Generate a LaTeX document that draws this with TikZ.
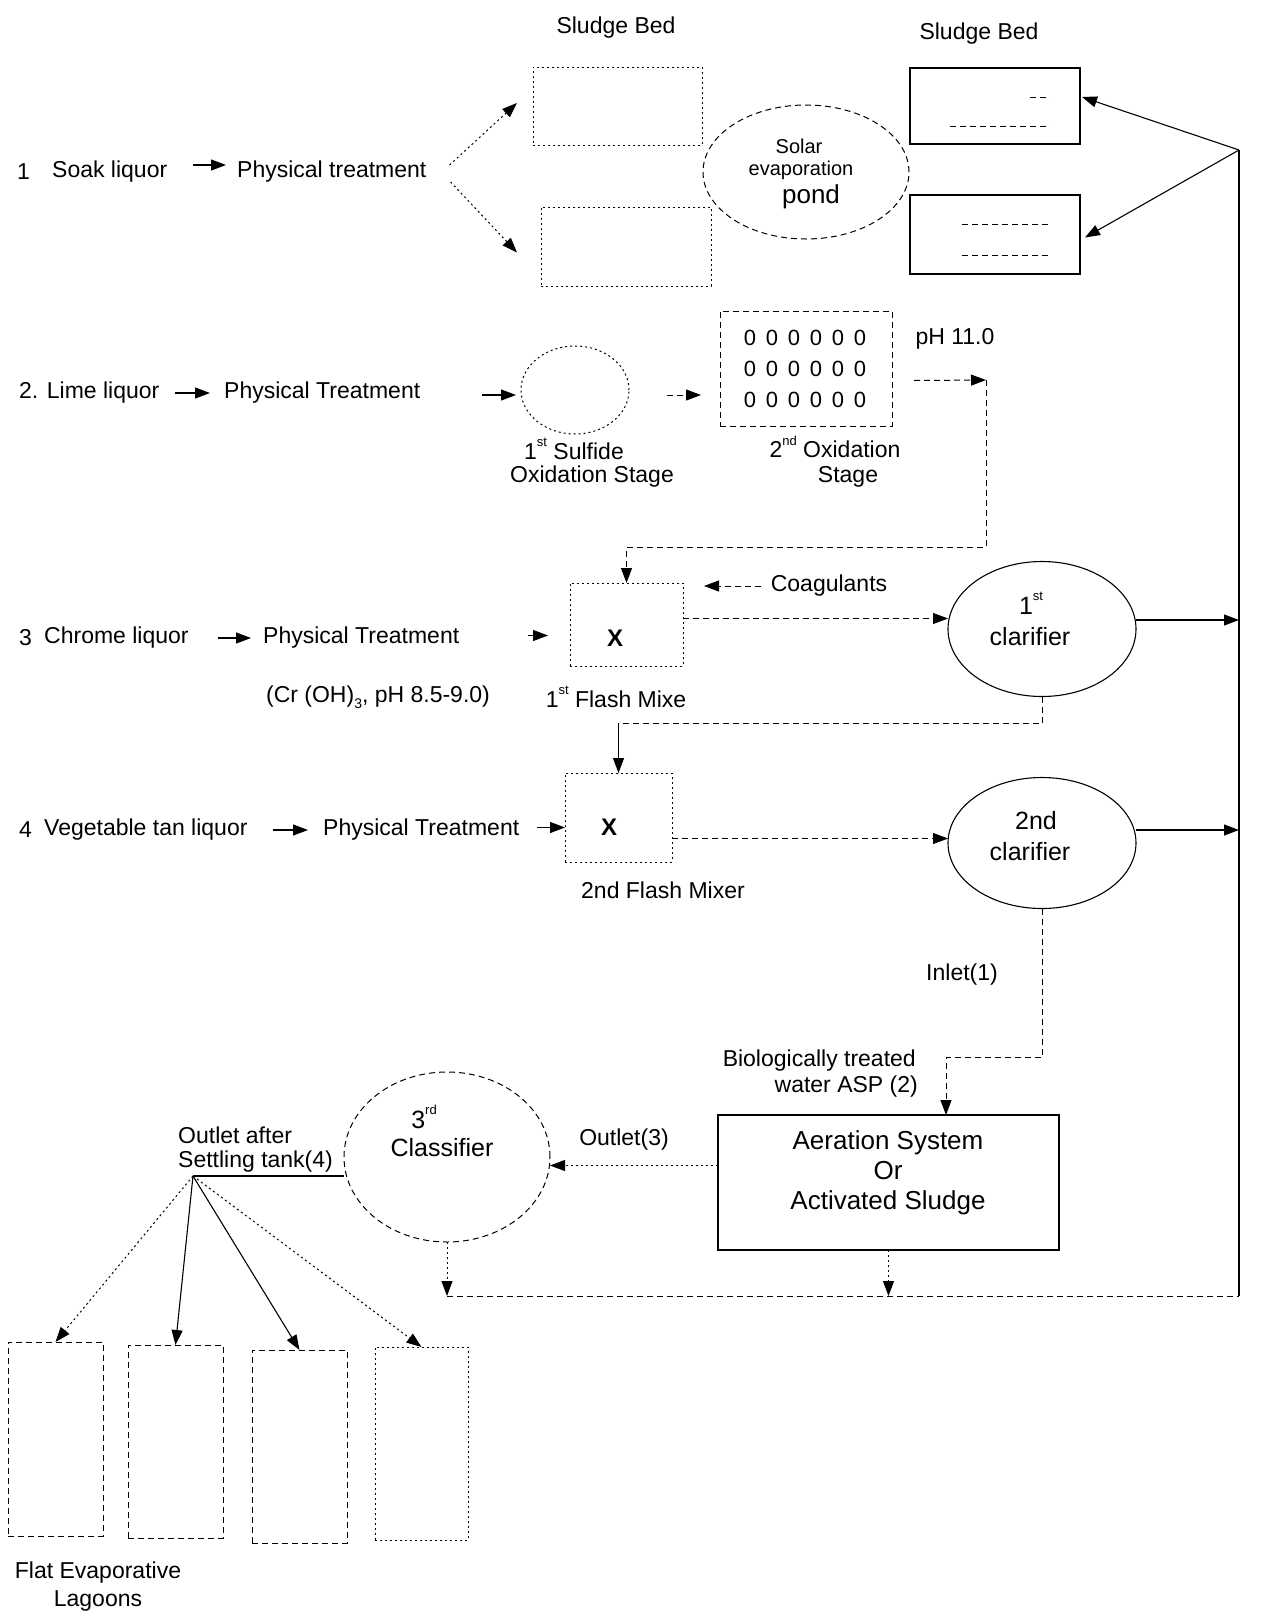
\documentclass[tikz,border=0pt]{standalone}
\usepackage{fontspec}
\setmainfont{Liberation Sans}
\usetikzlibrary{arrows.meta,calc,shapes.geometric}
\newcommand\mysup[1]{\raisebox{0.55em}{\fontsize{13}{14}\selectfont #1}}
\newcommand\mysub[1]{\raisebox{-0.25em}{\fontsize{14}{15}\selectfont #1}}
\begin{document}
\begin{tikzpicture}[x=1pt,y=-1pt,
  txt/.style={inner sep=0pt,font=\fontsize{23}{27}\selectfont},
  big/.style={inner sep=0pt,font=\fontsize{25}{29}\selectfont},
  box/.style={draw,inner sep=0pt,outer sep=0pt},
  ln/.style={line width=1.1pt},
  dashln/.style={line width=1pt,dash pattern=on 6pt off 4pt},
  dotln/.style={line width=1pt,dash pattern=on 2pt off 3pt},
  arr/.style={-{Triangle[length=15pt,width=11pt]}},
  ell/.style={draw,ellipse,inner sep=0pt,outer sep=0pt},
]
\fill[white] (0,0) rectangle (1261,1620);
\useasboundingbox (0,0) rectangle (1261,1620);

% ---------- top: sludge beds and solar pond ----------
\node[txt] (sbllab) at (616,28) {Sludge Bed};
\node[txt] (sbrlab) at (979,34) {Sludge Bed};
\node[box,dotln,minimum width=169pt,minimum height=78pt] (sbl1) at (617.5,106) {};
\node[box,dotln,minimum width=170pt,minimum height=79pt] (sbl2) at (626,246.5) {};
\node[box,ln,minimum width=170pt,minimum height=76pt] (sbr1) at (995,106) {};
\node[box,ln,minimum width=170pt,minimum height=79pt] (sbr2) at (995,234.5) {};
\draw[dashln] ($(sbr1.north west)+(120,29)$) -- ++(20,0);
\draw[dashln] ($(sbr1.north west)+(40,58)$) -- ++(100,0);
\draw[dashln] ($(sbr2.north west)+(52,29)$) -- ++(88,0);
\draw[dashln] ($(sbr2.north west)+(52,60)$) -- ++(88,0);
\node[ell,dashln,minimum width=206pt,minimum height=134pt] (solar) at (806,172) {};
\node[inner sep=0pt,font=\fontsize{20}{24}\selectfont] (solarA) at (799,146) {Solar};
\node[inner sep=0pt,font=\fontsize{20}{24}\selectfont] (solarB) at (801,170) {evaporation};
\node[inner sep=0pt,font=\fontsize{26}{30}\selectfont] (solarC) at (811,197) {pond};

% ---------- row 1 ----------
\node[txt,anchor=west] (n1) at (17,172) {1};
\node[txt,anchor=west] (soak) at (52,172) {Soak liquor};
\node[txt,anchor=west] (pt1) at (237,172) {Physical treatment};
\draw[ln,arr,shorten <=26pt,shorten >=11pt] ($(soak.east)+(0,-7)$) -- ($(pt1.west)+(0,-7)$);
\draw[dotln,arr] ($(pt1.east)+(23,-7)$) -- ($(sbl1.west)+(-16,-3)$);
\draw[dotln,arr] ($(pt1.east)+(24,10)$) -- ($(sbl2.west)+(-24,6)$);

% right return line
\coordinate (vtop) at (1239,150);
\coordinate (vbot) at (1239,1296);
\draw[ln,arr] (vtop) -- ($(sbr1.east)+(2,-9)$);
\draw[ln,arr] (vtop) -- ($(sbr2.east)+(5,3)$);
\draw[ln] (vbot) -- (vtop);

% ---------- row 2 ----------
\node[txt,anchor=west] (lime) at (19,393) {2. Lime liquor};
\node[txt,anchor=west] (pt2) at (224,393) {Physical Treatment};
\draw[ln,arr,shorten <=15pt,shorten >=14pt] (lime.east) -- (pt2.west);
\node[ell,dotln,minimum width=108pt,minimum height=88pt] (sulf) at (575,390) {};
\draw[ln,arr] ($(sulf.west)+(-39,5)$) -- ($(sulf.west)+(-5,5)$);
\node[txt] (sulfA) at (574,449) {1\mysup{st} Sulfide};
\node[txt] (sulfB) at (592,477) {Oxidation Stage};
\node[box,dashln,minimum width=172pt,minimum height=115pt] (ox2) at (806,368.5) {};
\draw[dashln,arr] ($(sulf.east)+(38,5)$) -- ($(sulf.east -| ox2.west)+(-19,5)$);
\node[inner sep=0pt,font=\fontsize{22}{26}\selectfont] (z1) at (805,338) {{\spaceskip=9.8pt 0 0 0 0 0 0}};
\node[inner sep=0pt,font=\fontsize{22}{26}\selectfont] (z2) at (805,369) {{\spaceskip=9.8pt 0 0 0 0 0 0}};
\node[inner sep=0pt,font=\fontsize{22}{26}\selectfont] (z3) at (805,400) {{\spaceskip=9.8pt 0 0 0 0 0 0}};
\node[txt] (ox2A) at (835,447) {2\mysup{nd} Oxidation};
\node[txt] (ox2B) at (848,477) {Stage};
\node[txt] (ph) at (955,339) {pH 11.0};
\coordinate (c1) at (986,380);
\coordinate (c2) at (986,547);
\draw[dashln,arr] ($(ox2.east)+(22,12)$) -- (c1);

% ---------- row 3 ----------
\node[txt,anchor=west] (n3) at (19,638) {3};
\node[txt,anchor=west] (chrome) at (44,638) {Chrome liquor};
\node[txt,anchor=west] (pt3) at (263,638) {Physical Treatment};
\draw[ln,arr,shorten <=29pt,shorten >=12pt] (chrome.east) -- (pt3.west);
\node[box,dotln,minimum width=113pt,minimum height=83pt] (mix1) at (626.5,624.5) {};
\draw[dashln,arr] (c1) -- (c2) -- (c2 -| mix1.north) -- (mix1.north);
\draw[ln,arr] ($(mix1.west)+(-42,11)$) -- ($(mix1.west)+(-22,11)$);
\node[inner sep=0pt,font=\bfseries\fontsize{24}{27}\selectfont] (x1) at (615,638) {X};
\node[txt] (crlab) at (378,697) {(Cr (OH)\mysub{3}, pH 8.5-9.0)};
\node[txt] (mix1lab) at (616,697) {1\mysup{st} Flash Mixe};
\node[txt] (coag) at (829,586) {Coagulants};
\coordinate (coagtip) at (704,586);
\draw[dashln,arr,shorten <=10pt] (coag.west) -- (coagtip);
\node[ell,ln,minimum width=188pt,minimum height=135pt] (cl1) at (1042,629) {};
\node[big] (cl1A) at (1031,603) {1\mysup{st}};
\node[big] (cl1B) at (1030,637) {clarifier};
\draw[dashln,arr] ($(mix1.east)+(0,-6)$) -- ($(mix1.east -| cl1.west)+(0,-6)$);
\draw[ln,arr] ($(cl1.east)+(0,-9)$) -- ($(cl1.east -| vtop)+(0,-9)$);

% ---------- row 4 ----------
\node[txt,anchor=west] (n4) at (19,830) {4};
\node[txt,anchor=west] (veg) at (44,830) {Vegetable tan liquor};
\node[txt,anchor=west] (pt4) at (323,830) {Physical Treatment};
\draw[ln,arr,shorten <=25pt,shorten >=15pt] (veg.east) -- (pt4.west);
\node[box,dotln,minimum width=107pt,minimum height=89pt] (mix2) at (618.5,817.5) {};
\draw[ln,arr] ($(mix2.west)+(-28,10)$) -- ($(mix2.west)+(0,10)$);
\node[inner sep=0pt,font=\bfseries\fontsize{24}{27}\selectfont] (x2) at (609,827) {X};
\node[txt] (mix2lab) at (663,890) {2nd Flash Mixer};
\coordinate (r1) at (1042,723);
\draw[dashln] (cl1.south) -- (r1) -- (r1 -| mix2.north);
\draw[ln,arr] (r1 -| mix2.north) -- (mix2.north);
\node[ell,ln,minimum width=188pt,minimum height=131pt] (cl2) at (1042,843) {};
\node[big] (cl2A) at (1036,821) {2nd};
\node[big] (cl2B) at (1030,852) {clarifier};
\draw[dashln,arr] ($(mix2.east)+(0,21)$) -- ($(mix2.east -| cl2.west)+(0,21)$);
\draw[ln,arr] ($(cl2.east)+(0,-13)$) -- ($(cl2.east -| vtop)+(0,-13)$);

% ---------- biological stage ----------
\node[txt] (inlet) at (962,975) {Inlet(1)};
\node[txt,anchor=east] (bio1) at (916,1061) {Biologically treated};
\node[txt,anchor=east] (bio2) at (918,1087) {water ASP (2)};
\node[box,ln,minimum width=341pt,minimum height=135pt] (aer) at (888.5,1182.5) {};
\node[inner sep=0pt,font=\fontsize{26}{30}\selectfont,align=center] (aert) at (888,1173) {Aeration System\\Or\\Activated Sludge};
\coordinate (i1) at (1042,1057);
\coordinate (i2) at (946,1057);
\draw[dashln,arr] (cl2.south) -- (i1) -- (i2) -- (i2 |- aer.north);
\node[txt] (out3) at (624,1140) {Outlet(3)};
\node[ell,dashln,minimum width=206pt,minimum height=170pt] (cls) at (447,1157) {};
\node[big] (clsA) at (424,1117) {3\mysup{rd}};
\node[big] (clsB) at (442,1148) {Classifier};
\draw[dotln,arr] ($(aer.west)+(0,-17)$) -- ($(aer.west -| cls.east)+(0,-17)$);
\draw[dotln,arr] (cls.south) -- (cls.south |- vbot);
\draw[dotln,arr] (aer.south) -- (aer.south |- vbot);
\draw[dashln] (cls.south |- vbot) -- (vbot);

% ---------- lagoons ----------
\node[txt,anchor=west] (oa1) at (178,1135) {Outlet after};
\node[txt,anchor=west] (oa2) at (178,1162) {Settling tank(4)};
\coordinate (hub) at (193,1176);
\draw[ln] (hub) -- (hub -| cls.west);
\node[box,dashln,minimum width=95pt,minimum height=194pt] (L1) at (55.5,1439) {};
\node[box,dashln,minimum width=95pt,minimum height=193pt] (L2) at (175.5,1441.5) {};
\node[box,dashln,minimum width=95pt,minimum height=193pt] (L3) at (299.5,1446.5) {};
\node[box,dotln,minimum width=93pt,minimum height=193pt] (L4) at (421.5,1443.5) {};
\draw[dotln,arr] (hub) -- (L1.north);
\draw[ln,arr] (hub) -- (L2.north);
\draw[ln,arr] (hub) -- (L3.north);
\draw[dotln,arr] (hub) -- (L4.north);
\node[txt] (fe1) at (98,1573) {Flat Evaporative};
\node[txt] (fe2) at (98,1601) {Lagoons};
\end{tikzpicture}
\end{document}
